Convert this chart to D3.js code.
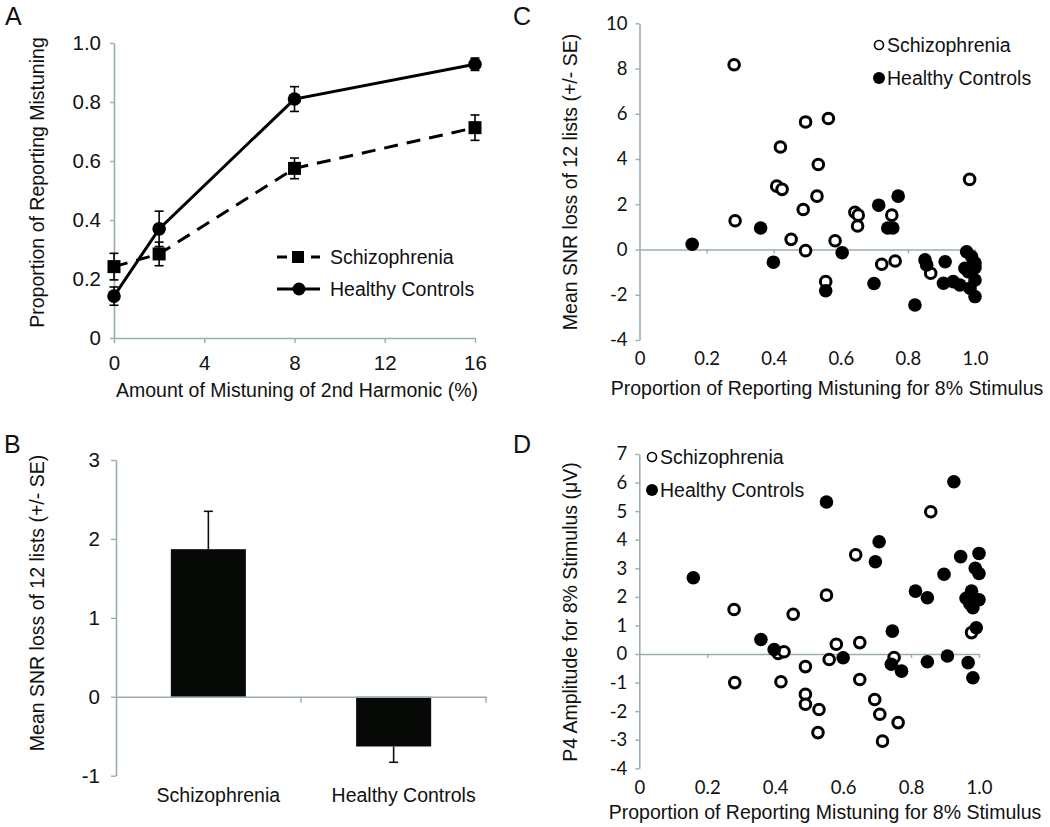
<!DOCTYPE html>
<html>
<head>
<meta charset="utf-8">
<script src="https://cdn.jsdelivr.net/npm/d3@7"></script>
<style>
  body { margin: 0; background: #fff; }
  svg { display: block; }
  text { font-family: "Liberation Sans", Arial, sans-serif; fill: #111; }
</style>
</head>
<body>
<svg id="chart" width="1050" height="827"></svg>
<script>
// ---------- DATA ----------
// Panel A
const mistuning = [0, 2, 8, 16];
const mistuningTicks = [0, 4, 8, 12, 16];
const propTicks = [0, 0.2, 0.4, 0.6, 0.8, 1.0];
const szProp = [0.242, 0.285, 0.575, 0.713];
const szPropSE = [0.045, 0.04, 0.035, 0.043];
const hcProp = [0.142, 0.37, 0.81, 0.928];
const hcPropSE = [0.031, 0.06, 0.042, 0.021];
// Panel B
const groups = ["Schizophrenia", "Healthy Controls"];
const snrMean = [1.87, -0.63];
const snrSE = [0.48, 0.2];
const snrTicks = [-1, 0, 1, 2, 3];
// Panel C
const scatterXTicks = [0, 0.2, 0.4, 0.6, 0.8, 1.0];
const snrScatterTicks = [-4, -2, 0, 2, 4, 6, 8, 10];
const szC_x = [0.282, 0.495, 0.563, 0.42, 0.533, 0.409, 0.425, 0.529, 0.984, 0.488, 0.642, 0.652, 0.752, 0.285, 0.650, 0.452, 0.495, 0.583, 0.555, 0.722, 0.762, 0.868];
const szC_y = [8.17, 5.64, 5.79, 4.53, 3.76, 2.80, 2.66, 2.36, 3.10, 1.77, 1.65, 1.52, 1.52, 1.27, 1.04, 0.45, -0.05, 0.39, -1.42, -0.65, -0.51, -1.05];
const hcC_x = [0.713, 0.771, 0.740, 0.755, 0.361, 0.157, 0.604, 0.399, 0.555, 0.699, 0.851, 0.856, 0.911, 0.906, 0.935, 0.955, 0.821, 0.975, 0.99, 1.0, 1.0, 0.97, 0.98, 1.0, 0.985, 1.0];
const hcC_y = [1.96, 2.36, 0.95, 0.95, 0.95, 0.23, -0.14, -0.56, -1.82, -1.50, -0.46, -0.68, -0.54, -1.49, -1.42, -1.57, -2.45, -0.10, -0.32, -0.60, -0.80, -0.83, -0.98, -1.35, -1.71, -2.08];
// Panel D
const p4Ticks = [-4, -3, -2, -1, 0, 1, 2, 3, 4, 5, 6, 7];
const szD_x = [0.858, 0.637, 0.551, 0.279, 0.453, 0.978, 0.409, 0.426, 0.58, 0.649, 0.559, 0.75, 0.489, 0.281, 0.417, 0.649, 0.489, 0.489, 0.529, 0.693, 0.708, 0.762, 0.526, 0.716];
const szD_y = [4.98, 3.47, 2.06, 1.56, 1.39, 0.75, 0.02, 0.08, 0.34, 0.40, -0.19, -0.12, -0.44, -1.0, -0.97, -0.89, -1.41, -1.76, -1.94, -1.59, -2.11, -2.40, -2.75, -3.05];
const hcD_x = [0.551, 0.926, 0.706, 0.695, 0.946, 1.0, 0.989, 1.0, 0.897, 0.159, 0.813, 0.848, 0.978, 0.962, 1.0, 0.973, 0.982, 0.745, 0.992, 0.358, 0.397, 0.6, 0.742, 0.772, 0.848, 0.907, 0.968, 0.982];
const hcD_y = [5.32, 6.03, 3.93, 3.23, 3.41, 3.52, 3.0, 2.82, 2.79, 2.67, 2.2, 1.97, 2.2, 1.95, 1.9, 1.76, 1.62, 0.8, 0.92, 0.51, 0.16, -0.13, -0.36, -0.6, -0.27, -0.07, -0.3, -0.83];

// ---------- STYLE ----------
const AXIS = "#9aaeae";
const svg = d3.select("#chart");
const defs = svg.append("defs");
defs.append("filter").attr("id", "soft").attr("x", "-20%").attr("y", "-20%").attr("width", "140%").attr("height", "140%")
  .append("feGaussianBlur").attr("stdDeviation", 0.6);

const intFmt = d => String(d);   // plain hyphen-minus, as in the reference

function styleAxis(g, fontFamily, fontSize) {
  g.selectAll(".domain").attr("stroke", AXIS).attr("stroke-width", 1.6);
  g.selectAll(".tick line").attr("stroke", AXIS).attr("stroke-width", 1.4);
  g.selectAll(".tick text").attr("fill", "#111")
    .style("font-family", fontFamily).style("font-size", fontSize + "px");
}
const ARIAL = '"Liberation Sans", Arial, sans-serif';
const CALIB = 'Lato, "Open Sans", sans-serif';

function panelLetter(t, x, y) {
  svg.append("text").attr("x", x).attr("y", y).text(t)
    .style("font-size", "25px");
}

// ---------- PANEL A ----------
{
  const x = d3.scaleLinear().domain([0, 16]).range([114, 475]);
  const y = d3.scaleLinear().domain([0, 1]).range([338, 43]);
  const g = svg.append("g");

  const ax = g.append("g").attr("transform", `translate(0,${y(0)})`)
    .call(d3.axisBottom(x).tickValues(mistuningTicks).tickSize(5).tickSizeOuter(0).tickPadding(12)
      .tickFormat(intFmt));
  styleAxis(ax, ARIAL, 20.5);
  const ay = g.append("g").attr("transform", `translate(${x(0)},0)`)
    .call(d3.axisLeft(y).tickValues(propTicks).tickSize(4).tickSizeOuter(0).tickPadding(9)
      .tickFormat(d => d === 0 ? "0" : d3.format(".1f")(d)));
  styleAxis(ay, ARIAL, 20.5);

  g.append("text").attr("x", 297).attr("y", 397).attr("text-anchor", "middle")
    .style("font-size", "19.5px").text("Amount of Mistuning of 2nd Harmonic (%)");
  g.append("text").attr("transform", `translate(44,${(33 + 332) / 2}) rotate(-90)`)
    .attr("text-anchor", "middle").style("font-size", "19.5px").text("Proportion of Reporting Mistuning");

  const line = d3.line().x(d => x(d[0])).y(d => y(d[1]));
  const szPts = mistuning.map((m, i) => [m, szProp[i], szPropSE[i]]);
  const hcPts = mistuning.map((m, i) => [m, hcProp[i], hcPropSE[i]]);

  const marks = g.append("g").attr("filter", "url(#soft)");
  marks.append("path").datum(szPts).attr("d", line).attr("fill", "none")
    .attr("stroke", "#000").attr("stroke-width", 3).attr("stroke-dasharray", "14,9");
  marks.append("path").datum(hcPts).attr("d", line).attr("fill", "none")
    .attr("stroke", "#000").attr("stroke-width", 3);

  function errBars(pts) {
    const eb = marks.append("g").attr("stroke", "#000").attr("stroke-width", 1.6);
    pts.forEach(p => {
      const cx = x(p[0]);
      eb.append("line").attr("x1", cx).attr("x2", cx).attr("y1", y(p[1] - p[2])).attr("y2", y(p[1] + p[2]));
      eb.append("line").attr("x1", cx - 4.5).attr("x2", cx + 4.5).attr("y1", y(p[1] - p[2])).attr("y2", y(p[1] - p[2]));
      eb.append("line").attr("x1", cx - 4.5).attr("x2", cx + 4.5).attr("y1", y(p[1] + p[2])).attr("y2", y(p[1] + p[2]));
    });
  }
  errBars(szPts);
  errBars(hcPts);

  marks.selectAll("rect.sq").data(szPts).enter().append("rect")
    .attr("x", d => x(d[0]) - 6.5).attr("y", d => y(d[1]) - 6.5)
    .attr("width", 13).attr("height", 13).attr("fill", "#000");
  marks.selectAll("circle.hc").data(hcPts).enter().append("circle")
    .attr("cx", d => x(d[0])).attr("cy", d => y(d[1])).attr("r", 6.8).attr("fill", "#000");

  // legend
  const lg = g.append("g").attr("filter", "url(#soft)");
  lg.append("line").attr("x1", 277).attr("x2", 320).attr("y1", 257).attr("y2", 257)
    .attr("stroke", "#000").attr("stroke-width", 3).attr("stroke-dasharray", "10,7");
  lg.append("rect").attr("x", 292).attr("y", 251).attr("width", 12).attr("height", 12).attr("fill", "#000");
  lg.append("line").attr("x1", 277).attr("x2", 320).attr("y1", 289).attr("y2", 289)
    .attr("stroke", "#000").attr("stroke-width", 3);
  lg.append("circle").attr("cx", 299).attr("cy", 289).attr("r", 6.5).attr("fill", "#000");
  g.append("text").attr("x", 330).attr("y", 264).style("font-size", "19.5px").text(groups[0]);
  g.append("text").attr("x", 330).attr("y", 296).style("font-size", "19.5px").text(groups[1]);
}
panelLetter("A", 5, 25);

// ---------- PANEL B ----------
{
  const y = d3.scaleLinear().domain([-1, 3]).range([775.7, 460]);
  const x = d3.scaleBand().domain(groups).range([116, 486]).paddingInner(0.595).paddingOuter(0.296);
  const g = svg.append("g");

  const ay = g.append("g").attr("transform", `translate(116,0)`)
    .call(d3.axisLeft(y).tickValues(snrTicks).tickSize(5).tickSizeOuter(0).tickPadding(11).tickFormat(intFmt));
  styleAxis(ay, ARIAL, 20.5);

  g.selectAll("rect.bar").data(groups).enter().append("rect")
    .attr("x", d => x(d)).attr("width", x.bandwidth())
    .attr("y", (d, i) => y(Math.max(0, snrMean[i])))
    .attr("height", (d, i) => Math.abs(y(snrMean[i]) - y(0)))
    .attr("fill", "#070907");

  // zero axis with category separator ticks
  const ax = g.append("g").attr("transform", `translate(0,${y(0)})`)
    .call(d3.axisBottom(x).tickSize(0).tickSizeOuter(0).tickFormat(""));
  ax.selectAll(".tick").remove();
  styleAxis(ax, ARIAL, 20);
  const seps = [x(groups[0]) + x.bandwidth() + x.step() * x.paddingInner() / 2, 486];
  g.selectAll("line.sep").data(seps).enter().append("line")
    .attr("x1", d => d).attr("x2", d => d).attr("y1", y(0)).attr("y2", y(0) + 6)
    .attr("stroke", AXIS).attr("stroke-width", 1.4);

  // error bars (one-sided, away from zero)
  groups.forEach((gname, i) => {
    const cx = x(gname) + x.bandwidth() / 2;
    const end = snrMean[i] + Math.sign(snrMean[i]) * snrSE[i];
    g.append("line").attr("x1", cx).attr("x2", cx).attr("y1", y(snrMean[i])).attr("y2", y(end))
      .attr("stroke", "#111").attr("stroke-width", 1.6);
    g.append("line").attr("x1", cx - 4.5).attr("x2", cx + 4.5).attr("y1", y(end)).attr("y2", y(end))
      .attr("stroke", "#111").attr("stroke-width", 1.6);
  });

  // category labels
  const cl = g.append("g").attr("transform", `translate(0,${y(-1)})`)
    .call(d3.axisBottom(x).tickSize(0).tickPadding(12));
  cl.select(".domain").remove();
  styleAxis(cl, ARIAL, 19.5);
  cl.selectAll(".tick text").attr("dx", 10);

  g.append("text").attr("transform", `translate(44,603) rotate(-90)`)
    .attr("text-anchor", "middle").style("font-size", "19.5px").text("Mean SNR loss of 12 lists (+/- SE)");
}
panelLetter("B", 4, 453);

// ---------- scatter helper ----------
function scatterPanel(opt) {
  const x = d3.scaleLinear().domain([0, 1]).range(opt.xr);
  const y = d3.scaleLinear().domain(opt.yd).range(opt.yr);
  const g = svg.append("g");

  const ay = g.append("g").attr("transform", `translate(${opt.xr[0]},0)`)
    .call(d3.axisLeft(y).tickValues(opt.yTicks).tickSize(4).tickSizeOuter(0).tickPadding(8).tickFormat(intFmt));
  styleAxis(ay, CALIB, 18.5);

  const ax = g.append("g").attr("transform", `translate(0,${y(0)})`)
    .call(d3.axisBottom(x).tickValues(scatterXTicks).tickSize(4).tickSizeOuter(0).tickFormat(""));
  styleAxis(ax, CALIB, 18.5);
  ax.selectAll(".tick").filter(d => d === 0).remove();

  const xl = g.append("g").attr("transform", `translate(0,${opt.yr[0]})`)
    .call(d3.axisBottom(x).tickValues(scatterXTicks).tickSize(0).tickPadding(opt.xlabPad)
      .tickFormat(d => d === 0 ? "0" : d3.format(".1f")(d)));
  xl.select(".domain").remove();
  styleAxis(xl, CALIB, 18.5);

  g.append("text").attr("x", opt.xtitle[0]).attr("y", opt.xtitle[1]).attr("text-anchor", "middle")
    .style("font-size", "19.5px").text("Proportion of Reporting Mistuning for 8% Stimulus");
  g.append("text").attr("transform", `translate(${opt.ytitle[0]},${opt.ytitle[1]}) rotate(-90)`)
    .attr("text-anchor", "middle").style("font-size", "19.5px").text(opt.ytitleText);

  const marks = g.append("g").attr("filter", "url(#soft)");
  const sz = opt.szx.map((v, i) => [v, opt.szy[i]]);
  const hc = opt.hcx.map((v, i) => [v, opt.hcy[i]]);
  marks.selectAll("circle.sz").data(sz).enter().append("circle")
    .attr("cx", d => x(d[0])).attr("cy", d => y(d[1])).attr("r", 5.3)
    .attr("fill", "#fff").attr("stroke", "#000").attr("stroke-width", 3);
  marks.selectAll("circle.hc").data(hc).enter().append("circle")
    .attr("cx", d => x(d[0])).attr("cy", d => y(d[1])).attr("r", 6.8)
    .attr("fill", "#000");

  // legend
  const lg = g.append("g");
  const lx = opt.legend[0], ly = opt.legend[1];
  lg.append("circle").attr("cx", lx).attr("cy", ly).attr("r", 4.5)
    .attr("fill", "#fff").attr("stroke", "#000").attr("stroke-width", 1.6);
  lg.append("circle").attr("cx", lx).attr("cy", ly + opt.legendGap).attr("r", 6)
    .attr("fill", "#000");
  lg.append("text").attr("x", lx + 8).attr("y", ly + 7).style("font-size", "19.5px").text(groups[0]);
  lg.append("text").attr("x", lx + 8).attr("y", ly + opt.legendGap + 7).style("font-size", "19.5px").text(groups[1]);
}

// ---------- PANEL C ----------
scatterPanel({
  xr: [639.5, 975], yd: [-4, 10], yr: [340, 23.3], yTicks: snrScatterTicks,
  xlabPad: 12, xtitle: [827, 395], ytitle: [577, 182],
  ytitleText: "Mean SNR loss of 12 lists (+/- SE)",
  szx: szC_x, szy: szC_y, hcx: hcC_x, hcy: hcC_y,
  legend: [879, 45], legendGap: 33
});
panelLetter("C", 513, 25);

// ---------- PANEL D ----------
scatterPanel({
  xr: [639.3, 979], yd: [-4, 7], yr: [768.3, 454], yTicks: p4Ticks,
  xlabPad: 13, xtitle: [825, 819], ytitle: [577, 612],
  ytitleText: "P4 Amplitude for 8% Stimulus (μV)",
  szx: szD_x, szy: szD_y, hcx: hcD_x, hcy: hcD_y,
  legend: [652, 457], legendGap: 33
});
panelLetter("D", 513, 453);
</script>
</body>
</html>
